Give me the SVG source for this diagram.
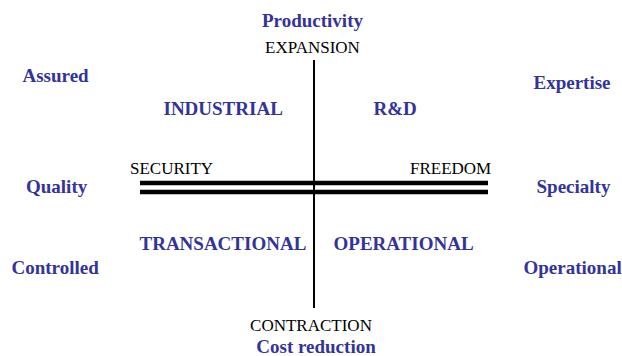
<svg xmlns="http://www.w3.org/2000/svg" width="622" height="356" viewBox="0 0 622 356">
  <style>
    .lbl { font-family: "Liberation Serif", "Times New Roman", serif; font-size: 19px; font-weight: bold; fill: #333399; }
    .pole { font-family: "Liberation Serif", "Times New Roman", serif; font-size: 17px; fill: #000000; }
    .axis { stroke: #000000; fill: none; }
  </style>
  <rect width="622" height="356" fill="#ffffff"/>

  <g id="connectors">
    <line class="axis" x1="314" y1="60" x2="314" y2="308" stroke-width="2"/>
    <line class="axis" x1="140" y1="183" x2="488" y2="183" stroke-width="4.3"/>
    <line class="axis" x1="140" y1="192" x2="488" y2="192" stroke-width="4.3"/>
  </g>

  <g id="top">
    <text class="lbl" x="312.5" y="27" text-anchor="middle">Productivity</text>
    <text class="pole" x="312.5" y="53" text-anchor="middle">EXPANSION</text>
  </g>
  <g id="bottom">
    <text class="pole" x="311" y="330.5" text-anchor="middle">CONTRACTION</text>
    <text class="lbl" x="316" y="352.5" text-anchor="middle">Cost reduction</text>
  </g>
  <g id="security">
    <text class="pole" x="130" y="174">SECURITY</text>
  </g>
  <g id="freedom">
    <text class="pole" x="410" y="174">FREEDOM</text>
  </g>

  <g id="industrial">
    <text class="lbl" x="163.5" y="115">INDUSTRIAL</text>
  </g>
  <g id="rnd">
    <text class="lbl" x="373.5" y="115">R&amp;D</text>
  </g>
  <g id="transactional">
    <text class="lbl" x="139.5" y="250">TRANSACTIONAL</text>
  </g>
  <g id="operational-quadrant">
    <text class="lbl" x="333.5" y="250">OPERATIONAL</text>
  </g>

  <g id="assured">
    <text class="lbl" x="22.5" y="82">Assured</text>
  </g>
  <g id="quality">
    <text class="lbl" x="26" y="193">Quality</text>
  </g>
  <g id="controlled">
    <text class="lbl" x="11.5" y="274">Controlled</text>
  </g>
  <g id="expertise">
    <text class="lbl" x="533.5" y="89">Expertise</text>
  </g>
  <g id="specialty">
    <text class="lbl" x="536.5" y="193">Specialty</text>
  </g>
  <g id="operational">
    <text class="lbl" x="523.5" y="274">Operational</text>
  </g>
</svg>
